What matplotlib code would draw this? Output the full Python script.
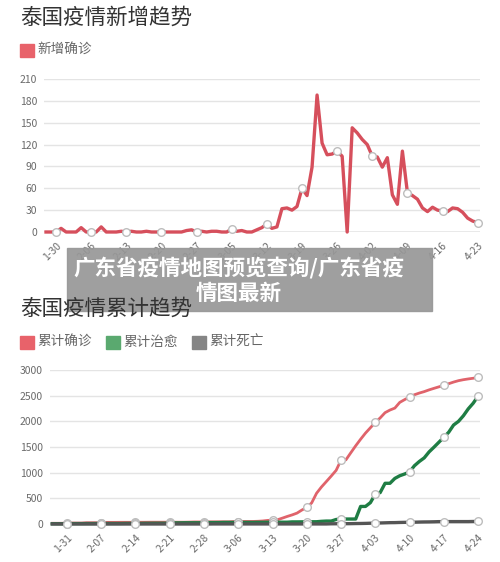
import numpy as np
import matplotlib
matplotlib.use('Agg')
import matplotlib.pyplot as plt
from matplotlib.patches import Rectangle

plt.rcParams['font.family'] = ['Noto Sans CJK SC', 'DejaVu Sans']

W, H = 500, 562


def fx(px):
    return px / W


def fy(py):
    return 1 - py / H


# daily new cases, 1-28 .. 4-23
new_cases = ([0, 0, 0, 5]
             + [0, 0, 0, 6, 0, 0, 0, 7, 0, 0, 0, 1, 0, 1, 0, 0, 1, 0, 0, 0,
                0, 0, 0, 0, 2, 3, 0, 1, 0]
             + [1, 1, 0, 0, 4, 1, 2, 0, 0, 3, 6, 11, 5, 7, 32, 33, 30, 35, 60, 50,
                89, 188, 122, 106, 107, 111, 104, 0, 143, 136, 127]
             + [120, 104, 103, 89, 102, 51, 38, 111, 54, 50, 45, 33, 28, 34, 30,
                29, 28, 33, 32, 27, 19, 15, 13])
new_ticks = ['1-30', '2-06', '2-13', '2-20', '2-27', '3-05', '3-12',
             '3-19', '3-26', '4-02', '4-09', '4-16', '4-23']

# cumulative, 1-28 .. 4-24
confirmed = ([14, 14, 14, 19]
             + [19, 19, 19, 25, 25, 25, 25, 32, 32, 32, 33, 33, 33, 34, 34, 34,
                35, 35, 35, 35, 35, 35, 35, 35, 37, 40, 40, 41, 42]
             + [42, 43, 43, 43, 47, 48, 50, 50, 50, 53, 59, 70, 75, 82, 114, 147,
                177, 212, 272, 322, 411, 599, 721, 827, 934, 1045, 1245, 1250,
                1388, 1524, 1651]
             + [1771, 1875, 1978, 2067, 2169, 2220, 2258, 2369, 2423, 2473, 2518,
                2551, 2579, 2613, 2643, 2672, 2700, 2733, 2765, 2792, 2811, 2826,
                2839, 2854])
recovered = ([5, 5, 5, 7]
             + [8, 8, 8, 9, 9, 10, 10, 10, 10, 10, 10, 12, 12, 12, 12, 14, 14, 15,
                15, 15, 17, 22, 22, 24, 24, 24, 24, 28, 28]
             + [28, 28, 31, 31, 31, 31, 31, 31, 31, 33, 33, 34, 35, 35, 35, 35,
                41, 41, 42, 42, 44, 44, 52, 57, 57, 88, 97, 97, 97, 97, 342]
             + [342, 416, 581, 612, 793, 793, 888, 940, 974, 1013, 1135, 1218,
                1288, 1405, 1497, 1593, 1689, 1787, 1928, 1999, 2108, 2243, 2352,
                2490])
deaths = ([0] * 4 + [0] * 29
          + [1] * 24 + [4, 5, 5, 6, 7, 9, 10]
          + [12, 15, 19, 20, 23, 26, 27, 30, 32, 33, 35, 38, 40, 41, 43, 46, 46,
             47, 47, 47, 47, 47, 49, 50])
cum_ticks = ['1-31', '2-07', '2-14', '2-21', '2-28', '3-06', '3-13',
             '3-20', '3-27', '4-03', '4-10', '4-17', '4-24']

fig = plt.figure(figsize=(5, 5.62), dpi=100)
fig.patch.set_facecolor('white')


def style_axes(ax, yticks, first, labels):
    for s in ax.spines.values():
        s.set_visible(False)
    ax.set_yticks(yticks)
    ax.set_xticks(np.arange(len(labels)) * 7 + first)
    ax.set_xticklabels(labels, rotation=45, ha='right', va='top',
                       rotation_mode='anchor')
    ax.tick_params(length=0, labelsize=7.5, labelcolor='#6a6a6a')
    ax.tick_params(axis='x', pad=6)
    ax.tick_params(axis='y', pad=5)
    ax.yaxis.grid(True, color='#e4e4e4', lw=1)
    ax.set_axisbelow(True)
    ax.axhline(0, color='#a8a8a8', lw=1, zorder=1)


mk = dict(marker='o', markersize=5.5, markerfacecolor='white',
          markeredgecolor='#bdbdbd', markeredgewidth=1)

# top chart
ax1 = fig.add_axes([fx(44), fy(232), fx(480) - fx(44), fy(79) - fy(232)])
x1 = np.arange(len(new_cases))
ax1.plot(x1, new_cases, color='#d64f5c', lw=2.4, solid_joinstyle='round',
         markevery=slice(2, None, 7), clip_on=False, zorder=3, **mk)
ax1.set_xlim(-0.4, 86.46)
ax1.set_ylim(0, 210)
style_axes(ax1, np.arange(0, 211, 30), 2, new_ticks)

# bottom chart
ax2 = fig.add_axes([fx(50), fy(524), fx(480) - fx(50), fy(370) - fy(524)])
x2 = np.arange(len(confirmed))
ax2.plot(x2, confirmed, color='#e0636b', lw=2, markevery=slice(3, None, 7),
         clip_on=False, zorder=3, **mk)
ax2.plot(x2, recovered, color='#1f7d44', lw=2.4, markevery=slice(3, None, 7),
         clip_on=False, zorder=4, **mk)
ax2.plot(x2, deaths, color='#555555', lw=2.4, markevery=slice(3, None, 7),
         clip_on=False, zorder=5, **mk)
ax2.set_xlim(-0.47, 87.4)
ax2.set_ylim(0, 3000)
style_axes(ax2, np.arange(0, 3001, 500), 3, cum_ticks)

# titles and legends
fig.text(fx(20), fy(18), '泰国疫情新增趋势', fontsize=15.5, color='#333333',
         va='center', zorder=7)
fig.text(fx(20), fy(309), '泰国疫情累计趋势', fontsize=15.5, color='#333333',
         va='center', zorder=7)


def legend_item(x, y, color, label):
    fig.patches.append(Rectangle((fx(x), fy(y + 7)), fx(14), 13 / H,
                                 transform=fig.transFigure, color=color,
                                 zorder=7))
    fig.text(fx(x + 17), fy(y), label, fontsize=9.8, color='#666666',
             va='center', zorder=7)


legend_item(20, 50, '#e8626a', '新增确诊')
legend_item(20, 342, '#e8626a', '累计确诊')
legend_item(106, 342, '#5aa96f', '累计治愈')
legend_item(192, 342, '#858585', '累计死亡')

# overlay banner
fig.patches.append(Rectangle((fx(67), fy(311)), fx(432) - fx(67), 63 / H,
                             transform=fig.transFigure, color='#979797',
                             alpha=0.92, zorder=5))
fig.text(fx(239), fy(268), '广东省疫情地图预览查询/广东省疫', fontsize=15.5,
         color='white', fontweight='bold', ha='center', va='center', zorder=6)
fig.text(fx(239), fy(293), '情图最新', fontsize=15.5, color='white',
         fontweight='bold', ha='center', va='center', zorder=6)

fig.savefig('out.png', dpi=100, facecolor='white')
